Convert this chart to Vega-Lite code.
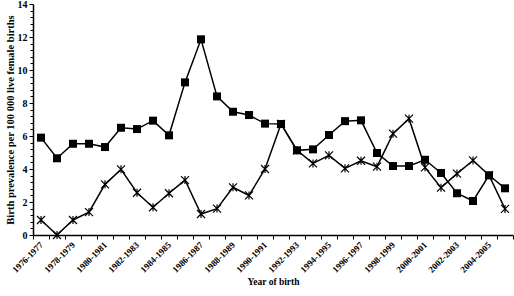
{
  "$schema": "https://vega.github.io/schema/vega-lite/v6.json",
  "width": 480,
  "height": 231,
  "autosize": {"type": "none"},
  "padding": {"left": 33, "top": 4, "right": 1, "bottom": 61},
  "background": "white",
  "config": {
    "view": {"stroke": null},
    "font": "Liberation Serif",
    "axis": {"labelFont": "Liberation Serif", "titleFont": "Liberation Serif", "labelFontWeight": "bold", "titleFontWeight": "bold", "labelColor": "black", "titleColor": "black", "domainColor": "black", "tickColor": "black", "grid": false}
  },
  "data": {"values": [
    {"period": "1976-1977", "series": "A", "value": 5.9},
    {"period": "1977-1978", "series": "A", "value": 4.65},
    {"period": "1978-1979", "series": "A", "value": 5.53},
    {"period": "1979-1980", "series": "A", "value": 5.53},
    {"period": "1980-1981", "series": "A", "value": 5.33},
    {"period": "1981-1982", "series": "A", "value": 6.5},
    {"period": "1982-1983", "series": "A", "value": 6.42},
    {"period": "1983-1984", "series": "A", "value": 6.93},
    {"period": "1984-1985", "series": "A", "value": 6.04},
    {"period": "1985-1986", "series": "A", "value": 9.25},
    {"period": "1986-1987", "series": "A", "value": 11.86},
    {"period": "1987-1988", "series": "A", "value": 8.4},
    {"period": "1988-1989", "series": "A", "value": 7.47},
    {"period": "1989-1990", "series": "A", "value": 7.27},
    {"period": "1990-1991", "series": "A", "value": 6.75},
    {"period": "1991-1992", "series": "A", "value": 6.73},
    {"period": "1992-1993", "series": "A", "value": 5.13},
    {"period": "1993-1994", "series": "A", "value": 5.19},
    {"period": "1994-1995", "series": "A", "value": 6.06},
    {"period": "1995-1996", "series": "A", "value": 6.9},
    {"period": "1996-1997", "series": "A", "value": 6.95},
    {"period": "1997-1998", "series": "A", "value": 4.97},
    {"period": "1998-1999", "series": "A", "value": 4.18},
    {"period": "1999-2000", "series": "A", "value": 4.18},
    {"period": "2000-2001", "series": "A", "value": 4.56},
    {"period": "2001-2002", "series": "A", "value": 3.76},
    {"period": "2002-2003", "series": "A", "value": 2.53},
    {"period": "2003-2004", "series": "A", "value": 2.06},
    {"period": "2004-2005", "series": "A", "value": 3.62},
    {"period": "2005-2006", "series": "A", "value": 2.83},
    {"period": "1976-1977", "series": "B", "value": 0.91},
    {"period": "1977-1978", "series": "B", "value": 0},
    {"period": "1978-1979", "series": "B", "value": 0.91},
    {"period": "1979-1980", "series": "B", "value": 1.39},
    {"period": "1980-1981", "series": "B", "value": 3.07},
    {"period": "1981-1982", "series": "B", "value": 3.98},
    {"period": "1982-1983", "series": "B", "value": 2.56},
    {"period": "1983-1984", "series": "B", "value": 1.68},
    {"period": "1984-1985", "series": "B", "value": 2.53},
    {"period": "1985-1986", "series": "B", "value": 3.33},
    {"period": "1986-1987", "series": "B", "value": 1.27},
    {"period": "1987-1988", "series": "B", "value": 1.6},
    {"period": "1988-1989", "series": "B", "value": 2.89},
    {"period": "1989-1990", "series": "B", "value": 2.4},
    {"period": "1990-1991", "series": "B", "value": 4.0},
    {"period": "1991-1992", "series": "B", "value": 6.73},
    {"period": "1992-1993", "series": "B", "value": 5.13},
    {"period": "1993-1994", "series": "B", "value": 4.34},
    {"period": "1994-1995", "series": "B", "value": 4.83},
    {"period": "1995-1996", "series": "B", "value": 4.04},
    {"period": "1996-1997", "series": "B", "value": 4.5},
    {"period": "1997-1998", "series": "B", "value": 4.14},
    {"period": "1998-1999", "series": "B", "value": 6.14},
    {"period": "1999-2000", "series": "B", "value": 7.05},
    {"period": "2000-2001", "series": "B", "value": 4.1},
    {"period": "2001-2002", "series": "B", "value": 2.87},
    {"period": "2002-2003", "series": "B", "value": 3.72},
    {"period": "2003-2004", "series": "B", "value": 4.52},
    {"period": "2004-2005", "series": "B", "value": 3.62},
    {"period": "2005-2006", "series": "B", "value": 1.58}
  ]},
  "encoding": {
    "x": {
      "field": "period", "type": "ordinal", "sort": null, "bandPosition": 0.5,
      "scale": {"type": "band", "paddingInner": 0, "paddingOuter": 0},
      "axis": {
        "title": "Year of birth", "titleFontSize": 9.5, "titlePadding": 2,
        "labelAngle": -45, "labelFontSize": 9, "labelAlign": "right", "labelBaseline": "middle",
        "labelPadding": 4, "labelOverlap": false,
        "labelExpr": "parseInt(substring(datum.label, 0, 4)) % 2 === 0 ? datum.label : ''",
        "tickBand": "extent", "tickSize": 4, "domainWidth": 1.5, "tickWidth": 1
      }
    },
    "y": {
      "field": "value", "type": "quantitative",
      "scale": {"domain": [0, 14], "nice": false, "zero": true},
      "axis": {
        "title": "Birth prevalence per 100 000 live female births", "titleFontSize": 10.5, "titlePadding": 2,
        "values": [0, 0.4, 0.8, 1.2, 1.6, 2, 2.4, 2.8, 3.2, 3.6, 4, 4.4, 4.8, 5.2, 5.6, 6, 6.4, 6.8, 7.2, 7.6, 8, 8.4, 8.8, 9.2, 9.6, 10, 10.4, 10.8, 11.2, 11.6, 12, 12.4, 12.8, 13.2, 13.6, 14],
        "format": ".0f",
        "labelExpr": "datum.value % 2 === 0 ? datum.label : ''",
        "labelFontSize": 10, "labelOverlap": false, "labelPadding": 2,
        "tickSize": {"condition": {"test": "datum.value % 2 === 0", "value": 4}, "value": 3},
        "domainWidth": 1.5
      }
    }
  },
  "layer": [
    {"mark": {"type": "line", "color": "black", "strokeWidth": 1.5}, "encoding": {"detail": {"field": "series"}}},
    {"transform": [{"filter": "datum.series === 'A'"}],
     "mark": {"type": "point", "shape": "square", "filled": true, "color": "black", "size": 64, "opacity": 1}},
    {"transform": [{"filter": "datum.series === 'B'"}],
     "mark": {"type": "point", "shape": "M-1,-1L1,1M-1,1L1,-1M0,-1L0,1", "filled": false, "stroke": "black", "strokeWidth": 1.2, "size": 64, "opacity": 1}}
  ]
}
